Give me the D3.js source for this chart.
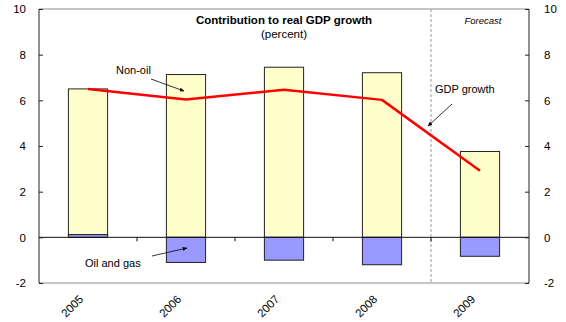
<!DOCTYPE html>
<html>
<head>
<meta charset="utf-8">
<script src="https://cdn.jsdelivr.net/npm/d3@7"></script>
<style>
  html, body { margin: 0; padding: 0; background: #fff; }
  svg { display: block; font-family: "Liberation Sans", Arial, sans-serif; }
</style>
</head>
<body>
<svg id="chart" width="566" height="322"></svg>
<script>
// Contribution to real GDP growth, percent
const years = ["2005", "2006", "2007", "2008", "2009"];
const nonOil = [6.38, 7.13, 7.45, 7.21, 3.76];
const oilGas = [0.12, -1.10, -1.00, -1.20, -0.83];
const gdpGrowth = [6.50, 6.04, 6.46, 6.02, 2.92];
const yTicks = [-2, 0, 2, 4, 6, 8, 10];
const forecastFrom = "2009";

const W = 566, H = 322;
const margin = { top: 9, right: 37, bottom: 39, left: 39 };
const svg = d3.select("#chart");

const x = d3.scaleBand().domain(years)
  .range([margin.left, W - margin.right])
  .paddingInner(0.6).paddingOuter(0.3);
const xCat = d3.scaleBand().domain(years)
  .range([margin.left, W - margin.right]).padding(0);
const y = d3.scaleLinear().domain([-2, 10]).range([H - margin.bottom, margin.top]);

const x0 = margin.left, x1 = W - margin.right;

// frame lines top and bottom
svg.append("line").attr("x1", x0).attr("x2", x1).attr("y1", y(10)).attr("y2", y(10))
  .attr("stroke", "#8c8c8c").attr("stroke-width", 1);
svg.append("line").attr("x1", x0).attr("x2", x1).attr("y1", y(-2)).attr("y2", y(-2))
  .attr("stroke", "#8c8c8c").attr("stroke-width", 1);

// forecast divider
const divX = xCat(forecastFrom);
svg.append("line").attr("x1", divX).attr("x2", divX).attr("y1", y(10)).attr("y2", y(-2))
  .attr("stroke", "#999").attr("stroke-width", 1).attr("stroke-dasharray", "3,2");

// stacked bars: oil and gas from zero, non-oil on top of positive oil contributions
const g = svg.append("g");
years.forEach((yr, i) => {
  const base = Math.max(0, oilGas[i]);
  g.append("rect")
    .attr("x", x(yr)).attr("width", x.bandwidth())
    .attr("y", y(base + nonOil[i])).attr("height", y(base) - y(base + nonOil[i]))
    .attr("fill", "#ffffcc").attr("stroke", "#222").attr("stroke-width", 1);
  const o0 = Math.min(0, oilGas[i]), o1 = Math.max(0, oilGas[i]);
  g.append("rect")
    .attr("x", x(yr)).attr("width", x.bandwidth())
    .attr("y", y(o1)).attr("height", y(o0) - y(o1))
    .attr("fill", "#9999ff").attr("stroke", "#222").attr("stroke-width", 1);
});

// zero axis with category separators
svg.append("line").attr("x1", x0).attr("x2", x1).attr("y1", y(0)).attr("y2", y(0))
  .attr("stroke", "#111").attr("stroke-width", 1);
years.slice(1).forEach(yr => {
  svg.append("line").attr("x1", xCat(yr)).attr("x2", xCat(yr))
    .attr("y1", y(0)).attr("y2", y(0) + 4).attr("stroke", "#111");
});

// left and right value axes (plain hyphen for negatives)
const fmt = d => String(d);
const leftAxis = d3.axisLeft(y).tickValues(yTicks).tickFormat(fmt).tickSize(-4).tickPadding(13);
const rightAxis = d3.axisRight(y).tickValues(yTicks).tickFormat(fmt).tickSize(-4).tickPadding(15);
function styleAxis(sel) {
  sel.select(".domain").attr("stroke", "#222");
  sel.selectAll(".tick line").attr("stroke", "#222");
  sel.selectAll(".tick text").attr("fill", "#000")
    .style("font-size", "11.5px").style("font-family", "Liberation Sans, Arial, sans-serif");
}
svg.append("g").attr("transform", `translate(${x0},0)`).call(leftAxis).call(styleAxis);
svg.append("g").attr("transform", `translate(${x1},0)`).call(rightAxis).call(styleAxis);
svg.selectAll(".domain").attr("d", function () {
  return `M0,${y(10)}V${y(-2)}`;
});

// category labels
years.forEach(yr => {
  const cx = x(yr) + x.bandwidth() / 2;
  svg.append("text")
    .attr("transform", `translate(${cx - 4},${y(-2) + 17}) rotate(-45)`)
    .attr("text-anchor", "end").attr("font-size", 11.5).attr("fill", "#000")
    .text(yr);
});

// GDP growth line
const line = d3.line().x((d, i) => x(years[i]) + x.bandwidth() / 2).y(d => y(d));
svg.append("path").datum(gdpGrowth).attr("d", line)
  .attr("fill", "none").attr("stroke", "#ff0000").attr("stroke-width", 2.5)
  .attr("stroke-linejoin", "round");

// titles
const cx = (x0 + x1) / 2;
svg.append("text").attr("x", cx).attr("y", 24).attr("text-anchor", "middle")
  .attr("font-size", 11.5).attr("font-weight", "bold").text("Contribution to real GDP growth");
svg.append("text").attr("x", cx).attr("y", 38).attr("text-anchor", "middle")
  .attr("font-size", 11.5).text("(percent)");
svg.append("text").attr("x", x(forecastFrom) + x.bandwidth() / 2 + 3).attr("y", 24)
  .attr("text-anchor", "middle").attr("font-size", 9.5).attr("font-style", "italic")
  .text("Forecast");

// annotations with arrows
svg.append("defs").append("marker").attr("id", "arrow")
  .attr("viewBox", "0 0 10 10").attr("refX", 9).attr("refY", 5)
  .attr("markerWidth", 6).attr("markerHeight", 6).attr("orient", "auto")
  .append("path").attr("d", "M0,1L10,5L0,9Z").attr("fill", "#000");

function note(text, tx, ty, ax1, ay1, ax2, ay2) {
  svg.append("text").attr("x", tx).attr("y", ty).attr("font-size", 11).attr("fill", "#000").text(text);
  svg.append("line").attr("x1", ax1).attr("y1", ay1).attr("x2", ax2).attr("y2", ay2)
    .attr("stroke", "#000").attr("stroke-width", 0.8).attr("marker-end", "url(#arrow)");
}
const c2006 = x("2006") + x.bandwidth() / 2;
note("Non-oil", 116, 74, 151, 79, c2006 - 2, 91);
note("GDP growth", 435, 93, 452, 104, 428, 126);
note("Oil and gas", 85, 267, 152, 256, c2006 + 1, 248);
</script>
</body>
</html>
